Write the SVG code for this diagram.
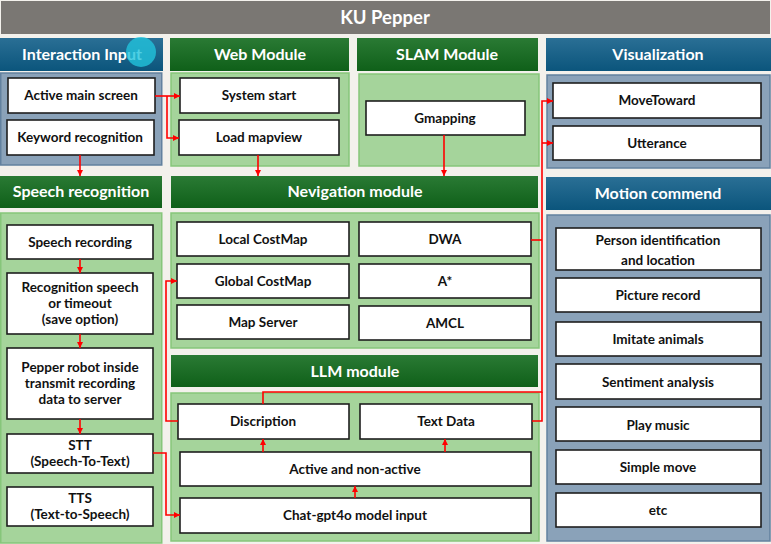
<svg xmlns="http://www.w3.org/2000/svg" width="771" height="544" viewBox="0 0 771 544">
<defs>
<linearGradient id="gg" x1="0" y1="0" x2="0" y2="1"><stop offset="0" stop-color="#2a7a34"/><stop offset="1" stop-color="#0f6019"/></linearGradient>
<linearGradient id="gb" x1="0" y1="0" x2="0" y2="1"><stop offset="0" stop-color="#2a6f95"/><stop offset="1" stop-color="#0b557c"/></linearGradient>
<marker id="ah" markerWidth="7" markerHeight="7" refX="6" refY="3.5" orient="auto" markerUnits="userSpaceOnUse"><path d="M0,0.5 L6,3.5 L0,6.5 z" fill="#f00"/></marker>
<style>
.hg{fill:url(#gg)}
.hb{fill:url(#gb)}
.ht{font-family:Lato,'Liberation Sans',sans-serif;font-weight:bold;font-size:16px;fill:#fff;text-anchor:middle}
.bg{fill:#a5d49b;stroke:#86c67a;stroke-width:1.5}
.bb{fill:#8aa2b9;stroke:#62819f;stroke-width:1.5}
.bx{fill:#fff;stroke:#1e1e1e;stroke-width:1.6}
.bt{font-family:Lato,'Liberation Sans',sans-serif;font-weight:bold;font-size:13.5px;fill:#111;text-anchor:middle}
.c{fill:none;stroke:#f00;stroke-width:1.6}
.ca{fill:none;stroke:#f00;stroke-width:1.6;marker-end:url(#ah)}
</style>
</defs>
<rect x="0" y="0" width="771" height="544" fill="#f3f1ec"/>
<g id="title">
<rect x="1" y="1" width="769" height="33" fill="#7a7773"/>
<text x="385" y="24" class="ht" style="font-size:18.5px">KU Pepper</text>
</g>
<g id="interaction-input">
<rect x="0" y="38" width="163" height="33" class="hb"/>
<text x="82" y="60" class="ht">Interaction Input</text>
<rect x="0.75" y="73" width="161" height="92" class="bb"/>
</g>
<g id="active-main-screen"><rect x="8" y="78" width="147" height="35" class="bx"/><text x="81" y="100" class="bt">Active main screen</text></g>
<g id="keyword-recognition"><rect x="7" y="120" width="147" height="35" class="bx"/><text x="80" y="142" class="bt">Keyword recognition</text></g>
<g id="web-module">
<rect x="170" y="38" width="179" height="33" class="hg"/>
<text x="260" y="60" class="ht">Web Module</text>
<rect x="171" y="73" width="178" height="93" class="bg"/>
</g>
<g id="system-start"><rect x="180" y="78" width="159" height="35" class="bx"/><text x="259" y="100" class="bt">System start</text></g>
<g id="load-mapview"><rect x="179" y="120" width="160" height="35" class="bx"/><text x="259" y="142" class="bt">Load mapview</text></g>
<g id="slam-module">
<rect x="357" y="38" width="181" height="33" class="hg"/>
<text x="447" y="60" class="ht">SLAM Module</text>
<rect x="359" y="74" width="180" height="92" class="bg"/>
</g>
<g id="gmapping"><rect x="366" y="101" width="159" height="34" class="bx"/><text x="445" y="123" class="bt">Gmapping</text></g>
<g id="visualization">
<rect x="546" y="38" width="225" height="33" class="hb"/>
<text x="658" y="60" class="ht">Visualization</text>
<rect x="547" y="75" width="223" height="93" class="bb"/>
</g>
<g id="movetoward"><rect x="553" y="83" width="208" height="35" class="bx"/><text x="657" y="105" class="bt">MoveToward</text></g>
<g id="utterance"><rect x="553" y="126" width="208" height="34" class="bx"/><text x="657" y="148" class="bt">Utterance</text></g>
<g id="speech-recognition">
<rect x="0" y="176" width="162" height="32" class="hg"/>
<text x="81" y="197" class="ht">Speech recognition</text>
<rect x="0.75" y="213" width="161" height="330" class="bg"/>
</g>
<g id="speech-recording"><rect x="7" y="225" width="146" height="34" class="bx"/><text x="80" y="247" class="bt">Speech recording</text></g>
<g id="recognition-speech"><rect x="7" y="273" width="146" height="61" class="bx"/><text class="bt"><tspan x="80" y="292">Recognition speech</tspan><tspan x="80" y="308">or timeout</tspan><tspan x="80" y="324">(save option)</tspan></text></g>
<g id="pepper-robot"><rect x="7" y="348" width="146" height="71" class="bx"/><text class="bt"><tspan x="80" y="372">Pepper robot inside</tspan><tspan x="80" y="388">transmit recording</tspan><tspan x="80" y="404">data to server</tspan></text></g>
<g id="stt"><rect x="7" y="434" width="146" height="39" class="bx"/><text class="bt"><tspan x="80" y="450">STT</tspan><tspan x="80" y="466">(Speech-To-Text)</tspan></text></g>
<g id="tts"><rect x="7" y="487" width="146" height="39" class="bx"/><text class="bt"><tspan x="80" y="503">TTS</tspan><tspan x="80" y="519">(Text-to-Speech)</tspan></text></g>
<g id="navigation-module">
<rect x="171" y="176" width="367" height="32" class="hg"/>
<text x="355" y="197" class="ht">Nevigation module</text>
<rect x="171" y="213" width="368" height="135" class="bg"/>
</g>
<g id="local-costmap"><rect x="177" y="222" width="172" height="34" class="bx"/><text x="263" y="244" class="bt">Local CostMap</text></g>
<g id="global-costmap"><rect x="177" y="264" width="172" height="34" class="bx"/><text x="263" y="286" class="bt">Global CostMap</text></g>
<g id="map-server"><rect x="177" y="305" width="172" height="34" class="bx"/><text x="263" y="327" class="bt">Map Server</text></g>
<g id="dwa"><rect x="359" y="222" width="172" height="34" class="bx"/><text x="445" y="244" class="bt">DWA</text></g>
<g id="astar"><rect x="359" y="264" width="172" height="34" class="bx"/><text x="445" y="286" class="bt">A*</text></g>
<g id="amcl"><rect x="359" y="306" width="172" height="34" class="bx"/><text x="445" y="328" class="bt">AMCL</text></g>
<g id="llm-module">
<rect x="171" y="355" width="367" height="32" class="hg"/>
<text x="355" y="377" class="ht">LLM module</text>
<rect x="171" y="393" width="368" height="148" class="bg"/>
</g>
<g id="discription"><rect x="178" y="404" width="171" height="35" class="bx"/><text x="263" y="426" class="bt">Discription</text></g>
<g id="text-data"><rect x="360" y="404" width="172" height="35" class="bx"/><text x="446" y="426" class="bt">Text Data</text></g>
<g id="active-non-active"><rect x="180" y="452" width="351" height="34" class="bx"/><text x="355" y="474" class="bt">Active and non-active</text></g>
<g id="chat-gpt4o"><rect x="180" y="498" width="351" height="35" class="bx"/><text x="355" y="520" class="bt">Chat-gpt4o model input</text></g>
<g id="motion-commend">
<rect x="546" y="177" width="225" height="33" class="hb"/>
<text x="658" y="199" class="ht">Motion commend</text>
<rect x="547" y="215" width="223" height="326" class="bb"/>
</g>
<g id="person-identification"><rect x="556" y="228" width="205" height="42" class="bx"/><text class="bt"><tspan x="658" y="245">Person identification</tspan><tspan x="658" y="265">and location</tspan></text></g>
<g id="picture-record"><rect x="556" y="278" width="205" height="34" class="bx"/><text x="658" y="300" class="bt">Picture record</text></g>
<g id="imitate-animals"><rect x="556" y="322" width="205" height="34" class="bx"/><text x="658" y="344" class="bt">Imitate animals</text></g>
<g id="sentiment-analysis"><rect x="556" y="364" width="205" height="35" class="bx"/><text x="658" y="387" class="bt">Sentiment analysis</text></g>
<g id="play-music"><rect x="556" y="407" width="205" height="34" class="bx"/><text x="658" y="430" class="bt">Play music</text></g>
<g id="simple-move"><rect x="556" y="450" width="205" height="34" class="bx"/><text x="658" y="472" class="bt">Simple move</text></g>
<g id="etc"><rect x="556" y="493" width="205" height="34" class="bx"/><text x="658" y="515" class="bt">etc</text></g>
<g id="connectors">
<path class="ca" d="M155,96 H180"/>
<path class="ca" d="M167,96 V138 H179"/>
<path class="ca" d="M80,155 V176"/>
<path class="ca" d="M258,155 V176"/>
<path class="ca" d="M444,135 V176"/>
<path class="ca" d="M80,259 V273"/>
<path class="ca" d="M80,334 V348"/>
<path class="ca" d="M80,419 V434"/>
<path class="ca" d="M153,453 H166 V515 H180"/>
<path class="ca" d="M178,421 H166 V281 H177"/>
<path class="ca" d="M263,404 V392 H542 V101 H553"/>
<path class="ca" d="M542,143 H553"/>
<path class="c" d="M531,240 H542"/>
<path class="c" d="M532,421 H542 V392"/>
<path class="ca" d="M263,452 V439"/>
<path class="ca" d="M445,452 V439"/>
<path class="ca" d="M355,498 V486"/>
</g>
<circle cx="141" cy="52" r="15" fill="#22c3dc" fill-opacity="0.8"/>
</svg>
